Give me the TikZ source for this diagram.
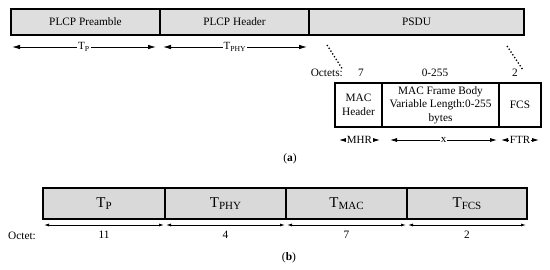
\documentclass[tikz,border=0pt]{standalone}
\usepackage{fontspec}
\setmainfont{Liberation Serif}
\usetikzlibrary{
  arrows.meta,
  positioning
}
\newcommand{\tsub}[1]{\raisebox{-2.5pt}{\fontsize{11}{12}\selectfont #1}}
\tikzset{
  field/.style = {
    draw, line width=1.2pt, fill=black!13, outer sep=0pt, inner sep=0pt,
    minimum height=26pt, font=\fontsize{11.3}{13.5}\selectfont
  },
  subfield/.style = {
    draw, line width=1.1pt, fill=white, outer sep=0pt, inner sep=0pt,
    minimum height=44pt, align=center, font=\fontsize{11.3}{13.5}\selectfont
  },
  slot/.style = {
    draw, line width=2pt, fill=black!15, outer sep=0pt, inner sep=0pt,
    minimum height=31pt, font=\fontsize{15}{17}\selectfont
  },
  span/.style = {line width=0.8pt, {Latex[length=8pt,width=4.5pt]}-{Latex[length=8pt,width=4.5pt]}},
  subspan/.style = {line width=0.8pt, {Latex[length=7pt,width=4pt]}-{Latex[length=7pt,width=4pt]}},
  smallspan/.style = {line width=0.8pt, {Latex[length=5pt,width=3pt]}-{Latex[length=5pt,width=3pt]}},
  spanlabel/.style = {fill=white, inner sep=1pt, font=\fontsize{11}{13}\selectfont},
  numlabel/.style = {inner sep=0pt, font=\fontsize{11.3}{13}\selectfont},
}

\begin{document}
\begin{tikzpicture}[x=1pt,y=-1pt]
  \useasboundingbox (0,0) rectangle (550,270);

  % (a) PPDU
  \node[field, anchor=north west, minimum width=149pt] (pre) at (11,9) {PLCP Preamble};
  \node[field, minimum width=149pt, right=0pt of pre] (hdr) {PLCP Header};
  \node[field, minimum width=215pt, right=0pt of hdr] (psdu) {PSDU};

  \draw[span] ([xshift=1pt,yshift=-12pt]pre.south west) -- ([xshift=-4pt,yshift=-12pt]pre.south east)
    node[midway, spanlabel] (tp) {T\textsubscript{P}};
  \draw[span] ([xshift=3pt,yshift=-12pt]hdr.south west) -- ([xshift=-2pt,yshift=-12pt]hdr.south east)
    node[midway, spanlabel] (tphy) {T\textsubscript{PHY}};

  \coordinate (zl1) at (327,45);
  \coordinate (zl2) at (343,70);
  \coordinate (zr1) at (507,46);
  \coordinate (zr2) at (523,70);
  \draw[dotted, line width=1.3pt] (zl1) -- (zl2);
  \draw[dotted, line width=1.3pt] (zr1) -- (zr2);

  \node[subfield, anchor=north west, minimum width=47pt] (mhr) at (335,83) {MAC\\Header};
  \node[subfield, minimum width=117pt, right=0pt of mhr] (body) {MAC Frame Body\\Variable Length:0-255\\bytes};
  \node[subfield, minimum width=42pt, right=0pt of body] (ftr) {FCS};

  \node[numlabel, anchor=east] (octets) at (343,73) {Octets:};
  \node[numlabel] (o7) at (361,73) {7};
  \node[numlabel] (o255) at (435,73) {0-255};
  \node[numlabel] (o2) at (515,73) {2};

  \draw[subspan] ([xshift=4pt,yshift=-13pt]mhr.south west) -- ([xshift=-2pt,yshift=-13pt]mhr.south east)
    node[midway, spanlabel] (mhrlab) {MHR};
  \draw[subspan] ([xshift=8pt,yshift=-13pt]body.south west) -- ([xshift=-2pt,yshift=-13pt]body.south east)
    node[midway, spanlabel] (xlab) {x};
  \draw[subspan] ([xshift=2pt,yshift=-13pt]ftr.south west) -- ([xshift=-2pt,yshift=-13pt]ftr.south east)
    node[midway, spanlabel] (ftrlab) {FTR};

  \node[font=\fontsize{11.5}{13}\selectfont] (capa) at (290,159) {(\textbf{a})};

  % (b) durations
  \node[slot, anchor=north west, minimum width=122pt] (sp) at (43,188) {T\tsub{P}};
  \node[slot, minimum width=121pt, right=0pt of sp] (sphy) {T\tsub{PHY}};
  \node[slot, minimum width=121pt, right=0pt of sphy] (smac) {T\tsub{MAC}};
  \node[slot, minimum width=120pt, right=0pt of smac] (sfcs) {T\tsub{FCS}};

  \foreach \s/\n in {sp/11, sphy/4, smac/7, sfcs/2}{
    \draw[smallspan] ([xshift=1pt,yshift=-6pt]\s.south west) -- ([xshift=-1pt,yshift=-6pt]\s.south east)
      node[midway, below=6pt, numlabel] (n\s) {\n};
  }
  \node[numlabel, anchor=west] (octet) at (8,236) {Octet:};

  \node[font=\fontsize{11.5}{13}\selectfont] (capb) at (289,258) {(\textbf{b})};
\end{tikzpicture}
\end{document}
